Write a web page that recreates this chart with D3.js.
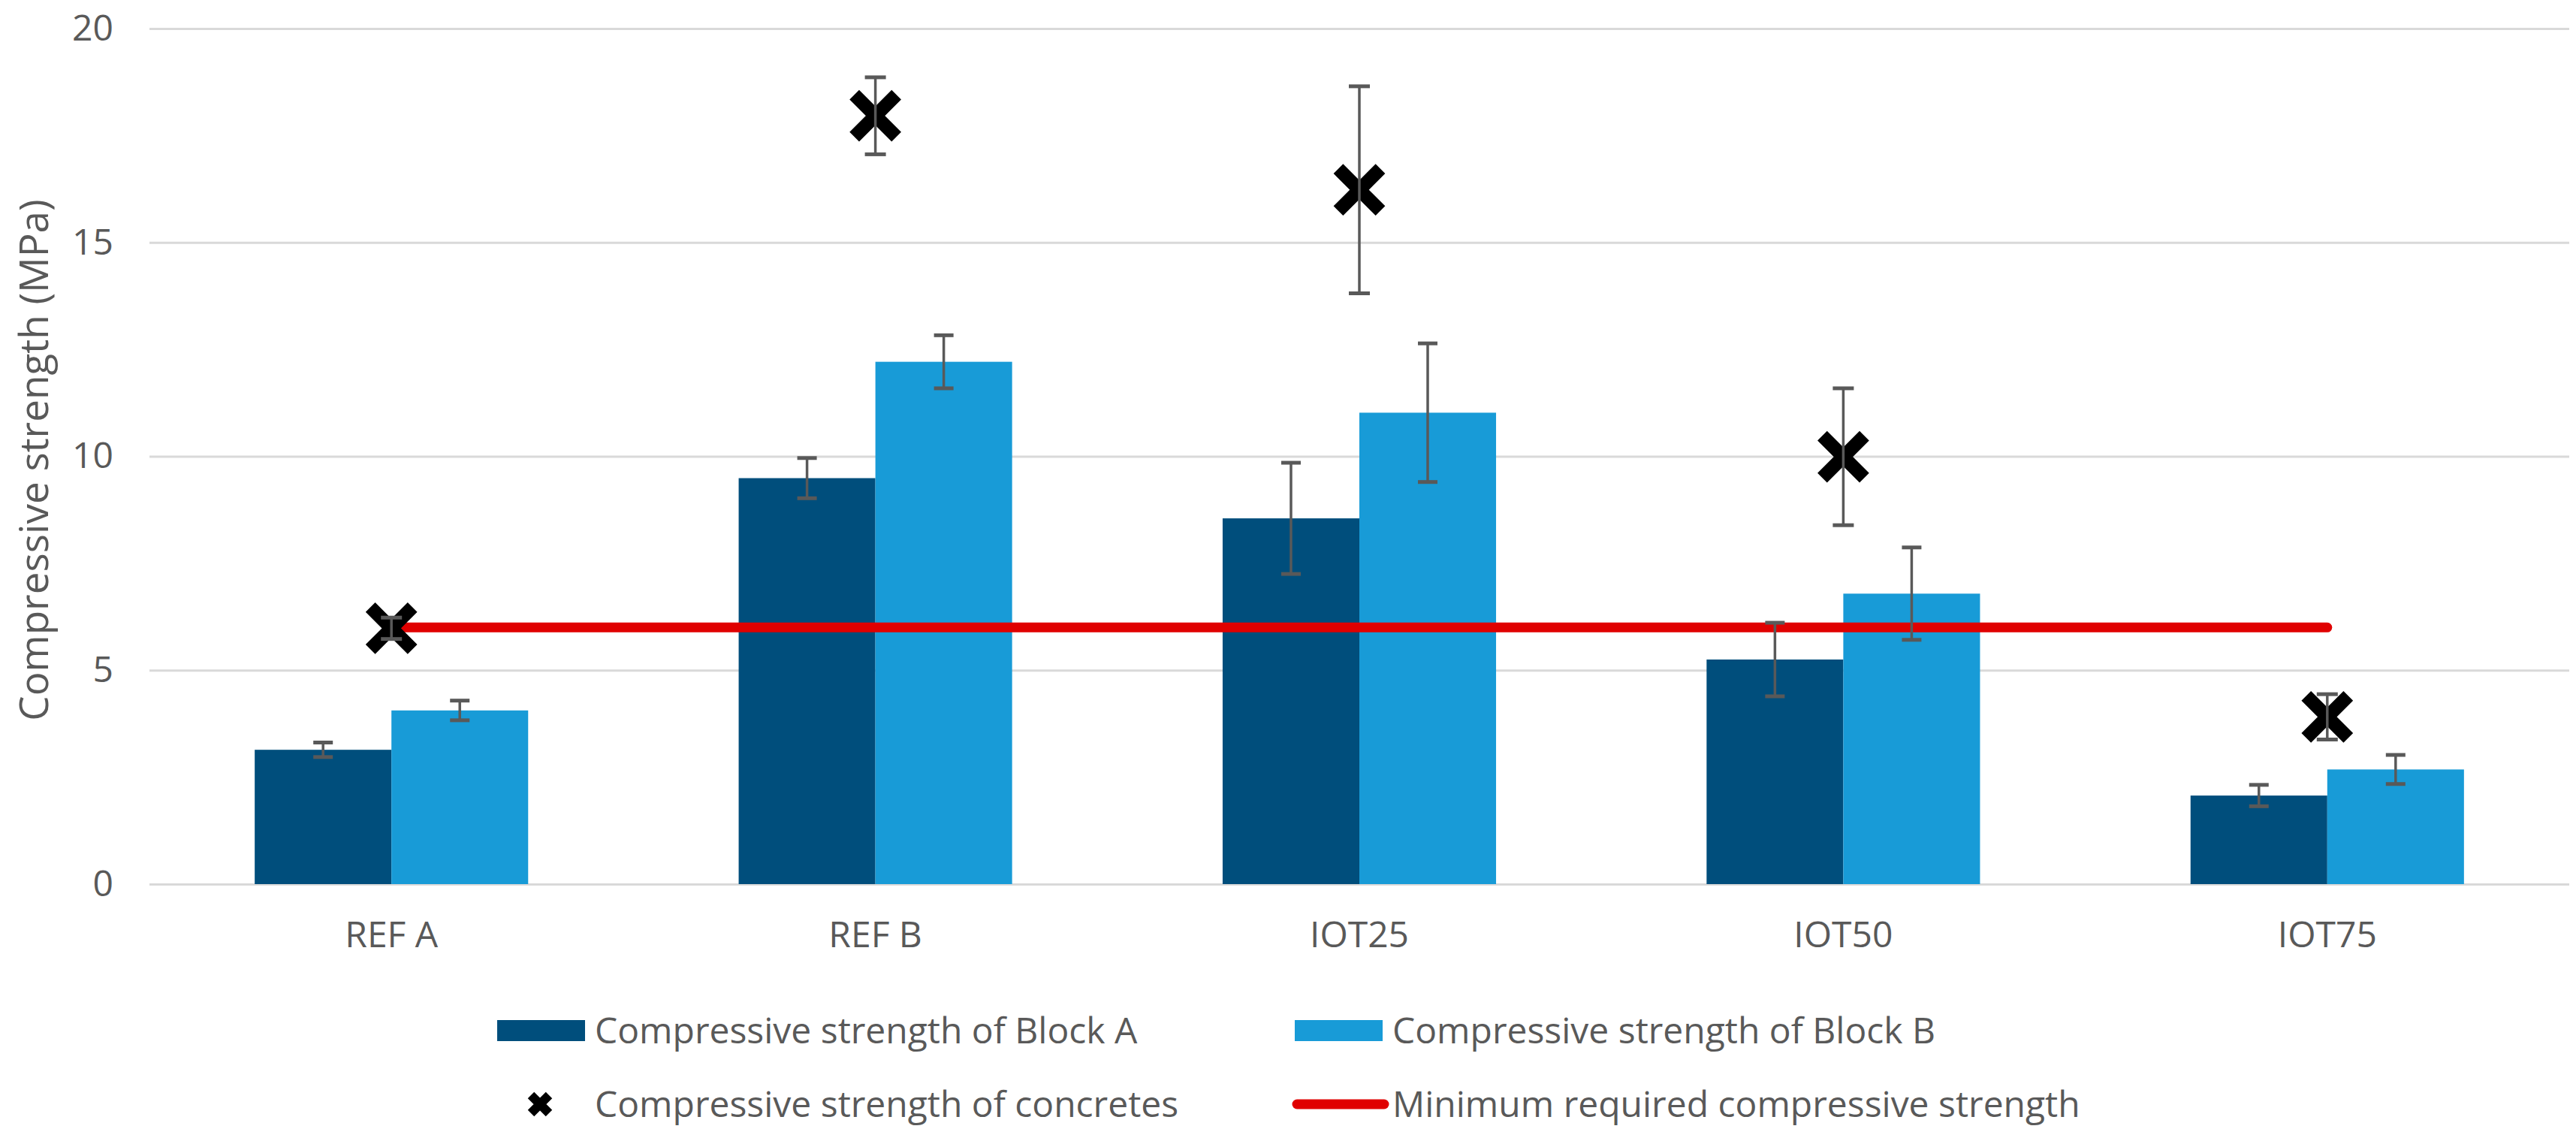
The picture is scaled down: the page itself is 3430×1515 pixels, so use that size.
<!DOCTYPE html>
<html>
<head>
<meta charset="utf-8">
<script src="https://cdn.jsdelivr.net/npm/d3@7"></script>
<style>
    body { margin: 0; background: #fff; }
    text { font-family: "Open Sans", sans-serif; fill: #595959; }
</style>
</head>
<body>
<div class="canvas"></div>
<script>
// data
const categories = ['REF A', 'REF B', 'IOT25', 'IOT50', 'IOT75'];
const blockA = [3.14, 9.49, 8.55, 5.25, 2.07];
const blockAErr = [0.17, 0.47, 1.30, 0.86, 0.25];
const blockB = [4.06, 12.21, 11.02, 6.79, 2.68];
const blockBErr = [0.23, 0.62, 1.62, 1.08, 0.34];
const concretes = [5.98, 17.96, 16.23, 9.99, 3.91];
const concretesErr = [0.25, 0.90, 2.42, 1.60, 0.53];
const minRequired = [6, 6, 6, 6, 6];
const yTicks = [0, 5, 10, 15, 20];
const seriesNames = ['Compressive strength of Block A', 'Compressive strength of Block B'];

const dim = { width: 3430, height: 1515 };
const plot = { left: 199, right: 3421, top: 38, bottom: 1177 };
const colour = { a: '#004e7c', b: '#189bd7', red: '#e00000', err: '#595959', grid: '#d9d9d9' };

const svg = d3.select('.canvas')
    .append('svg')
    .attr('width', dim.width)
    .attr('height', dim.height);

const x0 = d3.scaleBand()
    .domain(categories)
    .range([plot.left, plot.right])
    .paddingInner(0.435)
    .paddingOuter(0.2175);

const x1 = d3.scaleBand()
    .domain(['a', 'b'])
    .range([0, x0.bandwidth()]);

const y = d3.scaleLinear()
    .domain([0, 20])
    .range([plot.bottom, plot.top]);

const cx = c => x0(c) + x0.bandwidth() / 2;

// gridlines + y labels
const yAxis = d3.axisLeft(y)
    .tickValues(yTicks)
    .tickSize(-(plot.right - plot.left))
    .tickPadding(48);

svg.append('g')
    .attr('transform', `translate(${plot.left},0)`)
    .call(yAxis)
    .call(g => g.select('.domain').remove())
    .call(g => g.selectAll('.tick line').attr('stroke', colour.grid).attr('stroke-width', 3))
    .call(g => g.selectAll('.tick text')
        .attr('font-size', 48)
        .attr('font-family', '"Open Sans", sans-serif')
        .attr('fill', '#595959'));

// category labels
const xAxis = d3.axisBottom(x0).tickSize(0).tickPadding(50);
svg.append('g')
    .attr('transform', `translate(0,${plot.bottom})`)
    .call(xAxis)
    .call(g => g.select('.domain').remove())
    .call(g => g.selectAll('.tick text')
        .attr('font-size', 48)
        .attr('font-family', '"Open Sans", sans-serif')
        .attr('fill', '#595959'));

// y title
svg.append('text')
    .attr('transform', `translate(64,${(plot.top + plot.bottom) / 2 + 5}) rotate(-90)`)
    .attr('text-anchor', 'middle')
    .attr('font-size', 53)
    .text('Compressive strength (MPa)');

// bars
const barData = categories.map((c, i) => [
    { cat: c, key: 'a', v: blockA[i], e: blockAErr[i] },
    { cat: c, key: 'b', v: blockB[i], e: blockBErr[i] }
]).flat();

const graph = svg.append('g');

graph.selectAll('rect.bar')
    .data(barData)
    .enter()
    .append('rect')
    .attr('class', 'bar')
    .attr('x', d => x0(d.cat) + x1(d.key))
    .attr('width', x1.bandwidth())
    .attr('y', d => y(d.v))
    .attr('height', d => y(0) - y(d.v))
    .attr('fill', d => colour[d.key]);

// minimum required line
const line = d3.line()
    .x((d, i) => cx(categories[i]))
    .y(d => y(d));

graph.append('path')
    .attr('d', line(minRequired))
    .attr('fill', 'none')
    .attr('stroke', colour.red)
    .attr('stroke-width', 13)
    .attr('stroke-linecap', 'round');

// error bars helper
const errorBars = (sel, data, xf, capHalf) => {
    const g = sel.selectAll(null).data(data).enter().append('g')
        .attr('stroke', colour.err)
        .attr('stroke-width', 3.5);
    g.append('line')
        .attr('x1', xf).attr('x2', xf)
        .attr('y1', d => y(d.v + d.e)).attr('y2', d => y(d.v - d.e));
    g.append('line')
        .attr('x1', d => xf(d) - capHalf).attr('x2', d => xf(d) + capHalf)
        .attr('y1', d => y(d.v + d.e)).attr('y2', d => y(d.v + d.e))
        .attr('stroke-width', 5);
    g.append('line')
        .attr('x1', d => xf(d) - capHalf).attr('x2', d => xf(d) + capHalf)
        .attr('y1', d => y(d.v - d.e)).attr('y2', d => y(d.v - d.e))
        .attr('stroke-width', 5);
};

errorBars(graph, barData, d => x0(d.cat) + x1(d.key) + x1.bandwidth() / 2, 13);

// concrete crosses
const crossPath = (a) => `M${-a},${-a}L${a},${a}M${-a},${a}L${a},${-a}`;
const concData = categories.map((c, i) => ({ cat: c, v: concretes[i], e: concretesErr[i] }));

graph.selectAll('path.cross')
    .data(concData)
    .enter()
    .append('path')
    .attr('class', 'cross')
    .attr('transform', d => `translate(${cx(d.cat)},${y(d.v)})`)
    .attr('d', crossPath(28))
    .attr('stroke', '#000')
    .attr('stroke-width', 18);

errorBars(graph, concData, d => cx(d.cat), 14);

// legend
const legend = svg.append('g').attr('font-size', 48);
const leg = [
    { x: 662, y: 1372, type: 'rect', fill: colour.a, label: seriesNames[0] },
    { x: 1724, y: 1372, type: 'rect', fill: colour.b, label: seriesNames[1] },
    { x: 662, y: 1470, type: 'cross', label: 'Compressive strength of concretes' },
    { x: 1724, y: 1470, type: 'line', label: 'Minimum required compressive strength' }
];

leg.forEach(d => {
    if (d.type === 'rect') {
        legend.append('rect')
            .attr('x', d.x).attr('y', d.y - 14)
            .attr('width', 117).attr('height', 28)
            .attr('fill', d.fill);
    } else if (d.type === 'cross') {
        legend.append('path')
            .attr('transform', `translate(${d.x + 57},${d.y})`)
            .attr('d', crossPath(12))
            .attr('stroke', '#000')
            .attr('stroke-width', 12);
    } else {
        legend.append('line')
            .attr('x1', d.x + 3).attr('x2', d.x + 119)
            .attr('y1', d.y).attr('y2', d.y)
            .attr('stroke', colour.red)
            .attr('stroke-width', 13)
            .attr('stroke-linecap', 'round');
    }
    legend.append('text')
        .attr('x', d.x + 130)
        .attr('y', d.y)
        .attr('dy', '0.35em')
        .text(d.label);
});
</script>
</body>
</html>
